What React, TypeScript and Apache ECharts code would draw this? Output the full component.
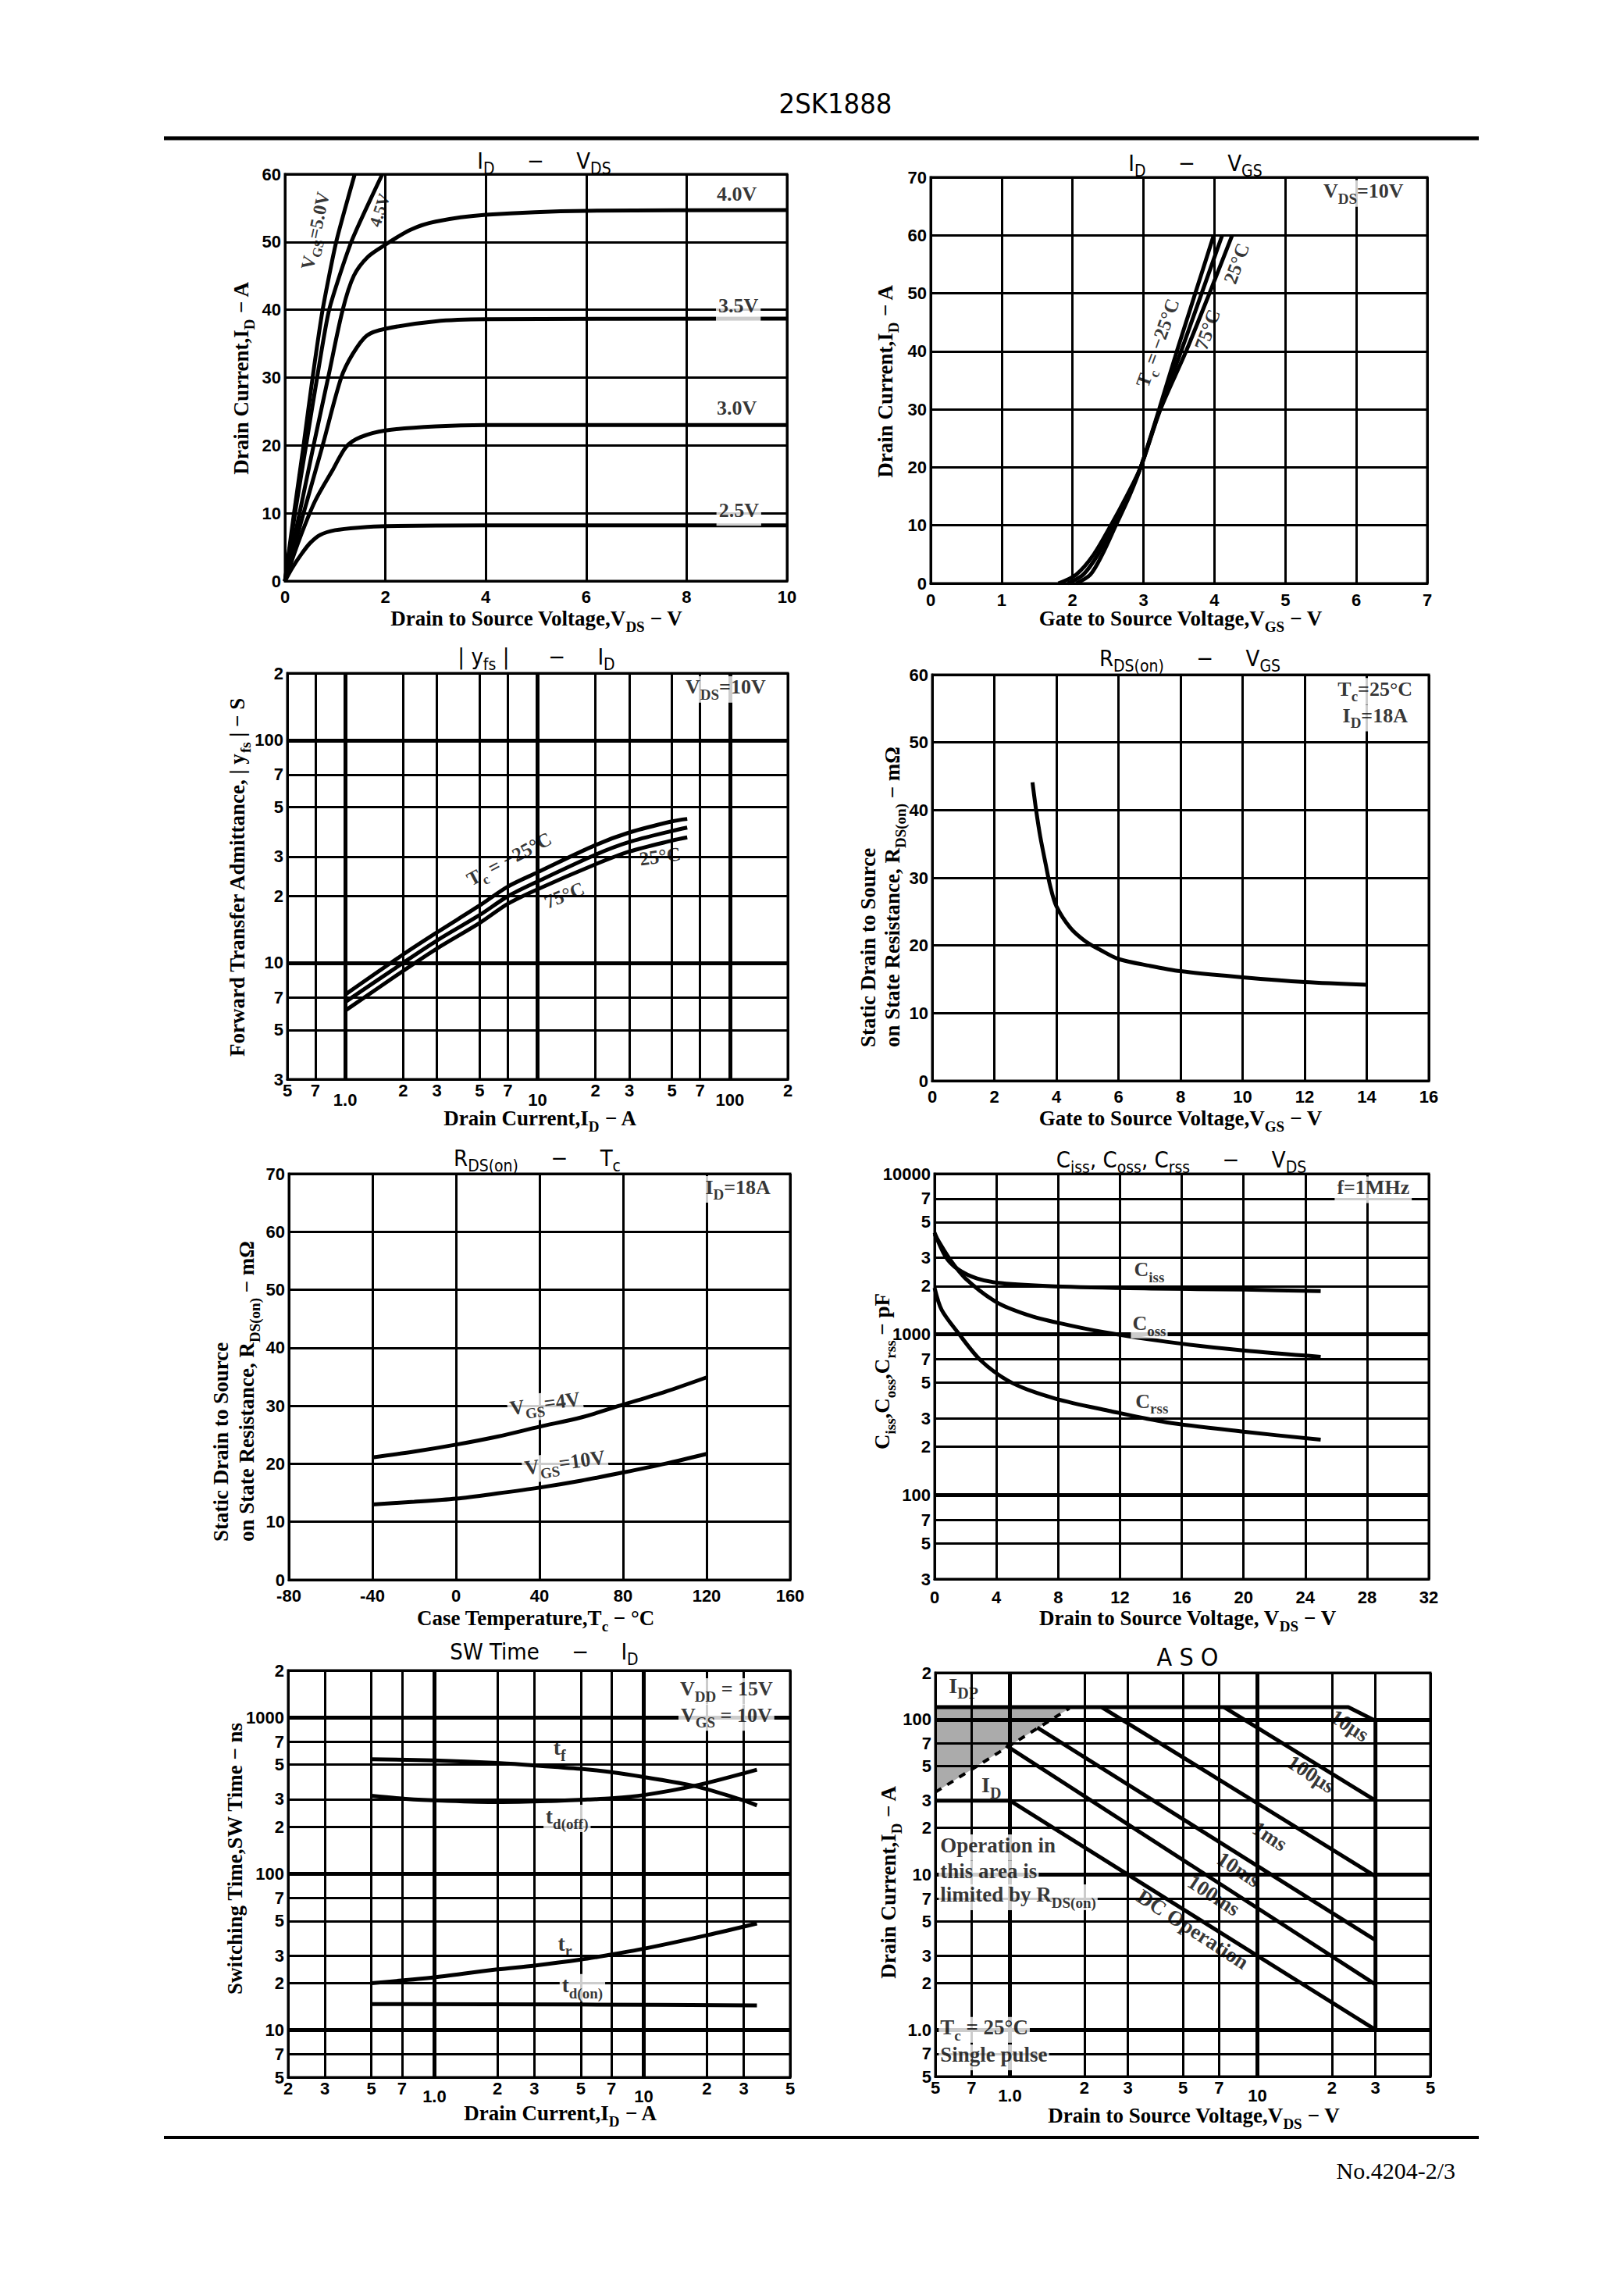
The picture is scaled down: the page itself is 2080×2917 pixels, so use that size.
import React, { useEffect, useRef } from 'react';
import * as echarts from 'echarts';

const SERIF = "'Liberation Serif', 'DejaVu Serif', serif";
const SANS = "'Liberation Sans', 'DejaVu Sans', sans-serif";
const COND = "'Liberation Sans Narrow', 'DejaVu Sans Condensed', 'Liberation Sans', sans-serif";

/* ---------- 1. ID – VDS ---------- */
const vdsCurve50 = [[0, 0], [0.18, 10], [0.37, 20], [0.55, 30], [0.75, 40], [1.02, 50], [1.39, 60]];
const vdsCurve45 = [[0, 0], [0.2, 10], [0.42, 20], [0.64, 30], [0.88, 40], [1.32, 50], [1.94, 60]];
const vdsCurve40 = [[0, 0], [0.29, 10], [0.57, 20], [0.86, 30], [1.15, 40], [1.37, 45], [1.65, 47.8], [2, 49.6], [2.5, 51.8], [3, 53], [4, 54], [6, 54.6], [10, 54.7]];
const vdsCurve35 = [[0, 0], [0.37, 10], [0.75, 20], [1.12, 30], [1.35, 33.5], [1.63, 36.2], [2, 37.2], [3, 38.3], [4, 38.6], [10, 38.7]];
const vdsCurve30 = [[0, 0], [0.28, 6], [0.6, 11.8], [0.96, 16.5], [1.22, 19.8], [1.5, 21.2], [2, 22.2], [3, 22.8], [4, 23], [10, 23]];
const vdsCurve25 = [[0, 0], [0.15, 2], [0.34, 4.1], [0.5, 5.6], [0.7, 6.8], [1, 7.5], [1.5, 7.9], [2, 8.1], [4, 8.2], [10, 8.2]];

/* ---------- 2. ID – VGS ---------- */
const vgsTcM25 = [[2.05, 0], [2.25, 1.5], [2.42, 5], [2.61, 10], [2.8, 15], [2.96, 20], [3.22, 30], [3.47, 40], [3.73, 50], [3.99, 60]];
const vgsTc25 = [[1.93, 0], [2.15, 1.5], [2.36, 5], [2.58, 10], [2.78, 15], [2.96, 20], [3.23, 30], [3.53, 40], [3.82, 50], [4.11, 60]];
const vgsTc75 = [[1.8, 0], [2.05, 1.5], [2.3, 5], [2.54, 10], [2.76, 15], [2.96, 20], [3.24, 30], [3.6, 40], [3.93, 50], [4.25, 60]];

/* ---------- 3. |yfs| – ID ---------- */
const yfsId = [1, 2, 3, 5, 7, 10, 20, 30, 50, 60];
const yfsTcM25 = [7.2, 10.9, 13.7, 18.1, 22.0, 25.5, 33.8, 38.5, 43.2, 44.3];
const yfsTc25 = [6.67, 10.0, 12.6, 16.4, 19.9, 23.2, 30.6, 34.9, 39.1, 40.5];
const yfsTc75 = [6.1, 9.2, 11.6, 15.1, 18.4, 21.4, 27.7, 31.6, 35.4, 36.6];
const yfsXTicks = [0.5, 0.7, 1, 2, 3, 5, 7, 10, 20, 30, 50, 70, 100, 200];
const yfsXLabels = ['5', '7', '1.0', '2', '3', '5', '7', '10', '2', '3', '5', '7', '100', '2'];
const yfsYTicks = [3, 5, 7, 10, 20, 30, 50, 70, 100, 200];
const yfsYLabels = ['3', '5', '7', '10', '2', '3', '5', '7', '100', '2'];

/* ---------- 4. RDS(on) – VGS ---------- */
const rdsVgsX = [3.23, 3.35, 3.48, 3.66, 3.8, 4.0, 4.45, 4.94, 5.43, 6.0, 7.0, 8.0, 10, 12, 14];
const rdsVgsY = [44.1, 39.9, 36.1, 31.9, 28.8, 25.8, 22.6, 20.6, 19.3, 18.0, 17.0, 16.2, 15.3, 14.6, 14.2];

/* ---------- 5. RDS(on) – Tc ---------- */
const tcX = [-40, -20, 0, 20, 40, 60, 80, 100, 120];
const rdsTcVgs4 = [21.1, 22.1, 23.3, 24.7, 26.4, 28.0, 30.2, 32.4, 34.9];
const rdsTcVgs10 = [13.0, 13.45, 14.0, 14.9, 15.9, 17.1, 18.5, 20.0, 21.7];

/* ---------- 6. Ciss, Coss, Crss – VDS ---------- */
const capCiss = [[0, 4300], [0.7, 3060], [1.5, 2550], [2.75, 2230], [4.3, 2085], [7.8, 1990], [14, 1930], [20, 1900], [25, 1860]];
const capCoss = [[0, 4200], [1, 2930], [2, 2230], [4, 1590], [6, 1325], [8, 1180], [11, 1030], [15, 900], [20, 794], [25, 725]];
const capCrss = [[0, 1950], [0.46, 1420], [1.5, 1030], [3, 687], [5, 500], [7.8, 399], [11.4, 333], [15, 284], [20, 248], [25, 221]];
const capYTicks = [30, 50, 70, 100, 200, 300, 500, 700, 1000, 2000, 3000, 5000, 7000, 10000];
const capYLabels = ['3', '5', '7', '100', '2', '3', '5', '7', '1000', '2', '3', '5', '7', '10000'];

/* ---------- 7. SW Time – ID ---------- */
const swTf = [[0.5, 541], [1, 531], [2, 512], [3, 494], [5, 469], [7, 447], [10, 416], [17.4, 365], [30, 295], [34.7, 274]];
const swTdOff = [[0.5, 316], [0.73, 302], [1.1, 294], [2, 288], [3.5, 292], [5.4, 299], [7, 304], [10, 319], [17.4, 365], [34.7, 464]];
const swTr = [[0.5, 20.0], [1, 21.8], [2, 24.5], [3, 25.9], [5, 28.3], [7, 30.5], [10, 33.2], [20, 40.5], [34.7, 48.2]];
const swTdOn = [[0.5, 14.7], [5, 14.6], [34.7, 14.4]];
const swXTicks = [0.2, 0.3, 0.5, 0.7, 1, 2, 3, 5, 7, 10, 20, 30, 50];
const swXLabels = ['2', '3', '5', '7', '1.0', '2', '3', '5', '7', '10', '2', '3', '5'];
const swYTicks = [5, 7, 10, 20, 30, 50, 70, 100, 200, 300, 500, 700, 1000, 2000];
const swYLabels = ['5', '7', '10', '2', '3', '5', '7', '100', '2', '3', '5', '7', '1000', '2'];

/* ---------- 8. ASO ---------- */
const asoIdpLimit = [[0.5, 120], [23.3, 120], [30, 98], [30, 1.0]];
const asoIdLimit = [[0.5, 30], [1.0, 30], [30, 1.0]];
const aso100us = [[7.34, 120], [30, 30]];
const aso1ms = [[2.35, 120], [30, 9.77]];
const aso10ms = [[1.29, 88.7], [30, 3.78]];
const aso100ms = [[0.965, 68], [30, 1.96]];
const asoRdsLimit = [[0.5, 34], [1.74, 118]];
const asoXTicks = [0.5, 0.7, 1, 2, 3, 5, 7, 10, 20, 30, 50];
const asoXLabels = ['5', '7', '1.0', '2', '3', '5', '7', '10', '2', '3', '5'];
const asoYTicks = [0.5, 0.7, 1, 2, 3, 5, 7, 10, 20, 30, 50, 70, 100, 200];
const asoYLabels = ['5', '7', '1.0', '2', '3', '5', '7', '10', '2', '3', '5', '7', '100', '2'];

/* ---------- layout ---------- */
const GRIDS = [
  { left: 365, top: 223, width: 643, height: 521 },
  { left: 1192, top: 227, width: 636, height: 520 },
  { left: 368, top: 862, width: 641, height: 520 },
  { left: 1194, top: 864, width: 636, height: 520 },
  { left: 370, top: 1503, width: 642, height: 520 },
  { left: 1197, top: 1503, width: 633, height: 519 },
  { left: 369, top: 2139, width: 643, height: 521 },
  { left: 1198, top: 2142, width: 634, height: 517 },
];

const toRich = (s: string) =>
  s
    .split(/_\{([^}]*)\}/)
    .map((p, i) => (p === '' ? '' : i % 2 ? `{s|${p}}` : `{n|${p}}`))
    .join('');

const DROP = 0.22;
const richFor = (fs: number, fam: string, fw: string) => {
  const d = Math.round(fs * DROP);
  return {
    n: { fontSize: fs, fontFamily: fam, fontWeight: fw, color: '#000', fill: '#000', verticalAlign: 'bottom', padding: [0, 0, d, 0], textBorderWidth: 0 },
    s: { fontSize: Math.round(fs * 0.72), fontFamily: fam, fontWeight: fw, color: '#000', fill: '#000', verticalAlign: 'bottom', textBorderWidth: 0 },
  };
};

const tickFont = { color: '#000', fontFamily: SANS, fontWeight: 'bold', fontSize: 22 };
const LINE = { color: '#000', width: 3 };

function baseAxis(gi: number, margin: number) {
  return {
    gridIndex: gi,
    axisLine: { show: true, onZero: false, lineStyle: LINE },
    axisTick: { show: false },
    splitLine: { show: true, lineStyle: { color: '#000', width: 3 } },
    axisLabel: { ...tickFont, margin, hideOverlap: false, showMinLabel: true, showMaxLabel: true },
  };
}
function linAxis(gi: number, margin: number, min: number, max: number, interval: number) {
  return { ...baseAxis(gi, margin), type: 'value', min, max, interval };
}
function logAxis(gi: number, margin: number, min: number, max: number, ticks: number[], labels: string[], lowerPad = 0) {
  const b: any = baseAxis(gi, margin);
  const lowered = lowerPad ? ['1.0', '10', '100'] : [];
  return {
    ...b,
    type: 'log',
    logBase: 10,
    min,
    max,
    axisTick: { show: false, customValues: ticks },
    axisLabel: {
      ...b.axisLabel,
      customValues: ticks,
      formatter: (v: number) => {
        let best = 0;
        let bd = Infinity;
        ticks.forEach((t, i) => {
          const dd = Math.abs(Math.log10(t) - Math.log10(v));
          if (dd < bd) { bd = dd; best = i; }
        });
        const lab = labels[best];
        return lowered.includes(lab) ? `{lo|${lab}}` : `{nn|${lab}}`;
      },
      rich: { lo: { ...tickFont, padding: [lowerPad, 0, 0, 0] }, nn: { ...tickFont } },
    },
  };
}

function curve(gi: number, data: any[], extra: any = {}) {
  return {
    type: 'line', xAxisIndex: gi, yAxisIndex: gi, data, symbol: 'none', silent: true,
    smooth: extra.smooth ?? 0.3, z: 3,
    lineStyle: { color: '#000', width: extra.width ?? 5, type: extra.type ?? 'solid' },
    ...(extra.more || {}),
  };
}

function decadeLines(xs: number[], ys: number[]) {
  return {
    silent: true, symbol: ['none', 'none'], label: { show: false }, animation: false,
    lineStyle: { color: '#000', width: 5, type: 'solid' },
    emphasis: { disabled: true },
    data: [...xs.map((v) => ({ xAxis: v })), ...ys.map((v) => ({ yAxis: v }))],
  };
}

function ann(x: number, y: number, text: string, o: any = {}) {
  const fs = o.fs ?? 26;
  const fam = o.fam ?? SERIF;
  const fw = o.fw ?? 'bold';
  const d = Math.round(fs * DROP);
  const rot = o.rot ?? 0;
  const r = (rot * Math.PI) / 180;
  return {
    value: [x, y],
    label: {
      show: true, position: o.pos ?? 'inside', distance: 0, color: '#000',
      textBorderWidth: 0, textBorderColor: 'transparent',
      formatter: toRich(text), rich: richFor(fs, fam, fw), rotate: rot,
      offset: [(d / 2) * Math.sin(r), (d / 2) * Math.cos(r)],
      backgroundColor: o.bg ? '#fff' : 'transparent',
      padding: o.bg ? (o.pad ?? [1, 3]) : 0,
    },
  };
}
function annSeries(gi: number, data: any[]) {
  return {
    type: 'scatter', xAxisIndex: gi, yAxisIndex: gi, symbol: 'circle', symbolSize: 1,
    itemStyle: { color: 'rgba(0,0,0,0)' }, silent: true, z: 10, data,
    label: { show: true }, labelLayout: { hideOverlap: false },
  };
}

function gtext(x: number, y: number, text: string, o: any = {}) {
  const fs = o.fs ?? 27;
  const fam = o.fam ?? SERIF;
  const fw = o.fw ?? 'bold';
  const rot = o.rot ?? 0;
  const align = o.align ?? 'center';
  const d = Math.round(fs * DROP);
  return {
    type: 'text', silent: true, z: 100,
    x: x + (rot ? d / 2 : 0), y: y + (rot ? 0 : d / 2), rotation: rot,
    style: {
      text: toRich(text), rich: richFor(fs, fam, fw), fill: '#000',
      font: `${fw} ${fs}px ${fam}`,
      textAlign: align, align, textVerticalAlign: 'middle', verticalAlign: 'middle',
    },
  };
}
const R90 = Math.PI / 2;

function buildOption() {
  const zip = (xs: number[], ys: number[]) => xs.map((x, i) => [x, ys[i]]);
  const hatchTop = asoIdpLimit[0][1];

  const series: any[] = [
    // 1
    curve(0, vdsCurve50, { smooth: 0.2 }), curve(0, vdsCurve45, { smooth: 0.2 }), curve(0, vdsCurve40),
    curve(0, vdsCurve35), curve(0, vdsCurve30), curve(0, vdsCurve25),
    annSeries(0, [
      ann(9.0, 56.7, '4.0V'), ann(9.03, 40.3, '3.5V', { bg: true }),
      ann(9.0, 25.2, '3.0V'), ann(9.04, 10.1, '2.5V', { bg: true }),
      ann(0.64, 51.6, 'V_{GS}=5.0V', { rot: 78, fs: 24 }), ann(1.92, 54.6, '4.5V', { rot: 72, fs: 22 }),
    ]),
    // 2
    curve(1, vgsTcM25), curve(1, vgsTc25), curve(1, vgsTc75),
    annSeries(1, [
      ann(6.1, 67.2, 'V_{DS}=10V', { bg: true, fs: 26 }),
      ann(3.23, 41.3, 'T_{c} = −25°C', { rot: 70, fs: 25 }),
      ann(3.93, 43.6, '75°C', { rot: 70, fs: 25 }),
      ann(4.34, 55.0, '25°C', { rot: 70, fs: 25 }),
    ]),
    // 3
    curve(2, zip(yfsId, yfsTcM25), { more: { markLine: decadeLines([1, 10, 100], [10, 100]) } }),
    curve(2, zip(yfsId, yfsTc25)), curve(2, zip(yfsId, yfsTc75)),
    annSeries(2, [
      ann(95, 169, 'V_{DS}=10V', { bg: true, fs: 26 }),
      ann(7.2, 28.7, 'T_{c} = −25°C', { rot: 28, fs: 25 }),
      ann(13.9, 19.7, '75°C', { rot: 22, fs: 25 }),
      ann(43.5, 29.4, '25°C', { rot: 8, fs: 25 }),
    ]),
    // 4
    curve(3, zip(rdsVgsX, rdsVgsY)),
    annSeries(3, [
      ann(14.27, 57.56, 'T_{c}=25°C', { bg: true, fs: 26 }),
      ann(14.27, 53.6, 'I_{D}=18A', { bg: true, fs: 26 }),
    ]),
    // 5
    curve(4, zip(tcX, rdsTcVgs4)), curve(4, zip(tcX, rdsTcVgs10)),
    annSeries(4, [
      ann(42.8, 30.0, 'V_{GS}=4V', { rot: 8, bg: true }),
      ann(52.3, 19.8, 'V_{GS}=10V', { rot: 8, bg: true }),
      ann(135, 67.3, 'I_{D}=18A', { bg: true, fs: 26 }),
    ]),
    // 6
    curve(5, capCiss, { more: { markLine: decadeLines([], [100, 1000]) } }),
    curve(5, capCoss), curve(5, capCrss),
    annSeries(5, [
      ann(13.9, 2444, 'C_{iss}'), ann(13.9, 1130, 'C_{oss}', { bg: true, pad: [0, 2] }),
      ann(14.07, 372, 'C_{rss}'), ann(28.4, 7940, 'f=1MHz', { bg: true, fs: 26 }),
    ]),
    // 7
    curve(6, swTf, { more: { markLine: decadeLines([1, 10], [10, 100, 1000]) } }),
    curve(6, swTdOff), curve(6, swTr), curve(6, swTdOn),
    annSeries(6, [
      ann(3.96, 619, 't_{f}', { fs: 28 }), ann(4.3, 226, 't_{d(off)}', { bg: true, fs: 27 }),
      ann(4.2, 34.8, 't_{r}', { fs: 28 }), ann(5.09, 18.7, 't_{d(on)}', { bg: true, fs: 27 }),
      ann(24.8, 1468, 'V_{DD} = 15V', { bg: true, fs: 26 }),
      ann(24.8, 1000, 'V_{GS} = 10V', { bg: true, fs: 26 }),
    ]),
    // 8
    {
      type: 'custom', xAxisIndex: 7, yAxisIndex: 7, silent: true, z: 1, clip: true,
      data: [asoRdsLimit[0]],
      renderItem: (_p: any, api: any) => {
        const last = asoRdsLimit[asoRdsLimit.length - 1];
        const pts = [
          ...asoRdsLimit.map((p) => api.coord(p)),
          api.coord([last[0], hatchTop]),
          api.coord([asoRdsLimit[0][0], hatchTop]),
        ];
        return { type: 'polygon', shape: { points: pts }, style: { fill: 'rgba(0,0,0,0.33)', stroke: 'none' } };
      },
    },
    curve(7, asoIdpLimit, { smooth: false, more: { markLine: decadeLines([1, 10], [1, 10, 100]) } }),
    curve(7, asoIdLimit, { smooth: false }),
    curve(7, aso100us, { smooth: false }), curve(7, aso1ms, { smooth: false }),
    curve(7, aso10ms, { smooth: false }), curve(7, aso100ms, { smooth: false }),
    curve(7, asoRdsLimit, { smooth: false, width: 4, type: [9, 9] }),
    annSeries(7, [
      ann(0.565, 160, 'I_{DP}', { pos: 'right', fs: 28 }),
      ann(0.765, 36.5, 'I_{D}', { pos: 'right', fs: 28 }),
      ann(0.514, 15.0, 'Operation in', { pos: 'right', fs: 27, bg: true, pad: [0, 2] }),
      ann(0.514, 10.2, 'this area is', { pos: 'right', fs: 27, bg: true, pad: [0, 2] }),
      ann(0.514, 7.15, 'limited by R_{DS(on)}', { pos: 'right', fs: 27, bg: true, pad: [0, 2] }),
      ann(0.514, 1.0, 'T_{c} = 25°C', { pos: 'right', fs: 27, bg: true, pad: [0, 2] }),
      ann(0.514, 0.665, 'Single pulse', { pos: 'right', fs: 27, bg: true, pad: [0, 2] }),
      ann(23.3, 88.7, '10μs', { rot: -33, fs: 27 }),
      ann(16.3, 43.2, '100μs', { rot: -33, fs: 27 }),
      ann(11.1, 17.2, '1ms', { rot: -33, fs: 27 }),
      ann(8.31, 10.5, '10ms', { rot: -33, fs: 27 }),
      ann(6.59, 7.15, '100ms', { rot: -33, fs: 27 }),
      ann(5.42, 4.32, 'DC Operation', { rot: -33, fs: 27 }),
    ]),
  ];

  const TF = { fs: 29, fam: COND, fw: 'normal' };
  const graphic: any[] = [
    { type: 'line', silent: true, shape: { x1: 210, y1: 177, x2: 1894, y2: 177 }, style: { stroke: '#000', lineWidth: 5 } },
    { type: 'line', silent: true, shape: { x1: 210, y1: 2737, x2: 1894, y2: 2737 }, style: { stroke: '#000', lineWidth: 4 } },
    gtext(1070, 132, '2SK1888', { fs: 36, fam: COND, fw: 'normal' }),
    gtext(1864, 2779, 'No.4204-2/3', { fs: 30, fam: SERIF, fw: 'normal', align: 'right' }),
    // chart titles
    gtext(697, 206, 'I_{D}     −     V_{DS}', TF),
    gtext(1531, 209, 'I_{D}     −     V_{GS}', TF),
    gtext(687, 841, '| y_{fs} |      −     I_{D}', TF),
    gtext(1524, 843, 'R_{DS(on)}     −     V_{GS}', TF),
    gtext(688, 1483, 'R_{DS(on)}     −     T_{c}', TF),
    gtext(1513, 1485, 'C_{iss}, C_{oss}, C_{rss}     −     V_{DS}', TF),
    gtext(697, 2115, 'SW Time     −     I_{D}', TF),
    gtext(1521, 2122, 'A S O', { fs: 32, fam: COND, fw: 'normal' }),
    // x titles
    gtext(687, 792, 'Drain to Source Voltage,V_{DS} − V'),
    gtext(1512, 792, 'Gate to Source Voltage,V_{GS} − V'),
    gtext(692, 1432, 'Drain Current,I_{D} − A'),
    gtext(1512, 1432, 'Gate to Source Voltage,V_{GS} − V'),
    gtext(686, 2072, 'Case Temperature,T_{c} − °C'),
    gtext(1521, 2072, 'Drain to Source Voltage, V_{DS} − V'),
    gtext(718, 2706, 'Drain Current,I_{D} − A'),
    gtext(1529, 2709, 'Drain to Source Voltage,V_{DS} − V'),
    // y titles
    gtext(309, 484, 'Drain Current,I_{D} − A', { rot: R90 }),
    gtext(1134, 488, 'Drain Current,I_{D} − A', { rot: R90 }),
    gtext(304, 1124, 'Forward Transfer Admittance, | y_{fs} | − S', { rot: R90 }),
    gtext(1112, 1341, 'Static Drain to Source', { rot: R90, align: 'left' }),
    gtext(1143, 1341, 'on State Resistance, R_{DS(on)} − mΩ', { rot: R90, align: 'left' }),
    gtext(283, 1974, 'Static Drain to Source', { rot: R90, align: 'left' }),
    gtext(316, 1974, 'on State Resistance, R_{DS(on)} − mΩ', { rot: R90, align: 'left' }),
    gtext(1130, 1756, 'C_{iss},C_{oss},C_{rss} − pF', { rot: R90 }),
    gtext(301, 2380, 'Switching Time,SW Time − ns', { rot: R90 }),
    gtext(1138, 2410, 'Drain Current,I_{D} − A', { rot: R90 }),
  ];

  return {
    animation: false,
    backgroundColor: '#fff',
    grid: GRIDS.map((g) => ({
      ...g, show: true, borderColor: '#000', borderWidth: 3, backgroundColor: 'transparent',
      containLabel: false, outerBoundsMode: 'none',
    })),
    xAxis: [
      linAxis(0, 9, 0, 10, 2),
      linAxis(1, 10, 0, 7, 1),
      logAxis(2, 3, 0.5, 200, yfsXTicks, yfsXLabels, 12),
      linAxis(3, 9, 0, 16, 2),
      linAxis(4, 9, -80, 160, 40),
      linAxis(5, 12, 0, 32, 4),
      logAxis(6, 3, 0.2, 50, swXTicks, swXLabels, 10),
      logAxis(7, 3, 0.5, 50, asoXTicks, asoXLabels, 10),
    ],
    yAxis: [
      linAxis(0, 5, 0, 60, 10),
      linAxis(1, 5, 0, 70, 10),
      logAxis(2, 5, 3, 200, yfsYTicks, yfsYLabels),
      linAxis(3, 5, 0, 60, 10),
      linAxis(4, 5, 0, 70, 10),
      logAxis(5, 5, 30, 10000, capYTicks, capYLabels),
      logAxis(6, 5, 5, 2000, swYTicks, swYLabels),
      logAxis(7, 5, 0.5, 200, asoYTicks, asoYLabels),
    ],
    series,
    graphic,
  };
}

export default function App() {
  const ref = useRef<HTMLDivElement>(null);
  useEffect(() => {
    if (!ref.current) return;
    const chart = echarts.init(ref.current, null, { renderer: 'svg', width: 2080, height: 2917 });
    chart.setOption(buildOption() as any);
    return () => chart.dispose();
  }, []);
  return (
    <div
      ref={ref}
      style={{ position: 'absolute', left: 0, top: 0, width: 2080, height: 2917, background: '#fff' }}
    />
  );
}
